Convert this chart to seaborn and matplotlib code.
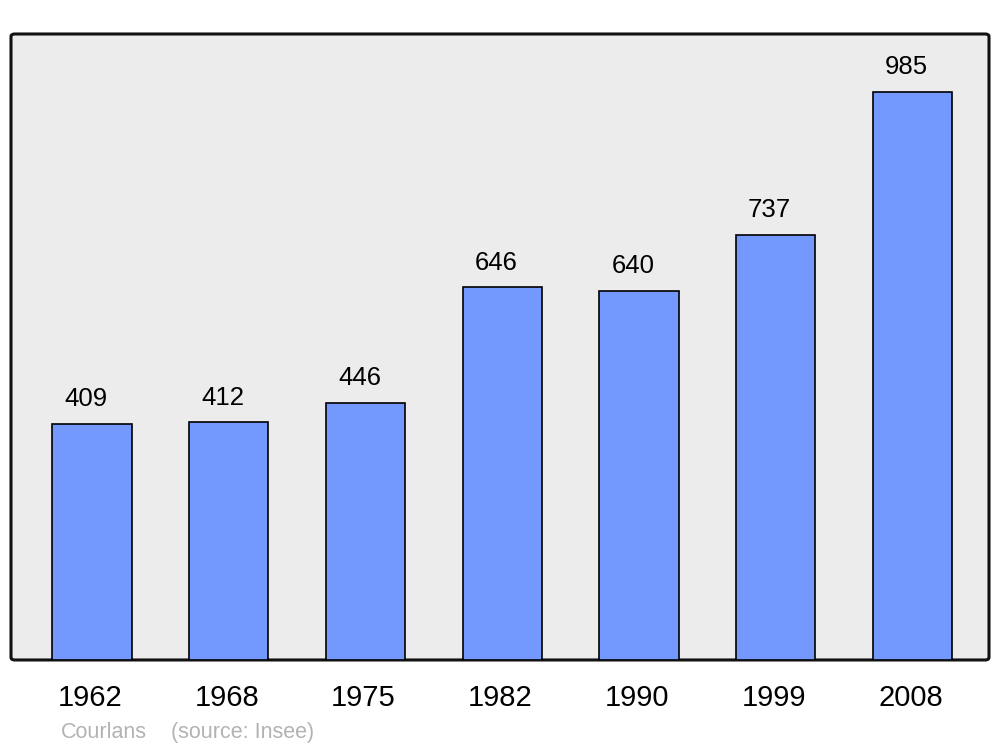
import matplotlib
matplotlib.use("Agg")
import matplotlib.pyplot as plt
import matplotlib.transforms as mtransforms
import seaborn as sns
import pandas as pd
from matplotlib.patches import FancyBboxPatch

# Population data
years = ["1962", "1968", "1975", "1982", "1990", "1999", "2008"]
population = [409, 412, 446, 646, 640, 737, 985]
town = "Courlans"
source = "(source: Insee)"

data = pd.DataFrame({"year": years, "pop": population})

sns.set_theme(style="white")
plt.rcParams["font.family"] = ["Liberation Sans", "DejaVu Sans"]

fig = plt.figure(figsize=(10, 7.47), dpi=100)
ax = fig.add_axes([0.011, 0.1165, 0.978, 0.838])
ax.set_facecolor("none")

# Rounded frame with grey fill
frame = FancyBboxPatch((0, 0), 1, 1, boxstyle="round,pad=0,rounding_size=0.004",
                       transform=ax.transAxes, facecolor="#ececec",
                       edgecolor="#111111", linewidth=2.2, zorder=0, clip_on=False)
ax.add_patch(frame)

sns.barplot(data=data, x="year", y="pop", color="#7399ff", width=0.58,
            edgecolor="black", linewidth=1.2, saturation=1, ax=ax, zorder=2)

for i, v in enumerate(population):
    ax.text(i - 0.045, v + 22, str(v), ha="center", va="bottom", fontsize=18.5, color="black")

ax.set_xlim(-0.593, 6.56)
ax.set_ylim(0, 1085)
ax.set_yticks([])
ax.set_xlabel("")
ax.set_ylabel("")
for s in ax.spines.values():
    s.set_visible(False)
ax.tick_params(axis="x", length=0, pad=17, labelsize=21, colors="black")

# nudge year labels slightly left
shift = mtransforms.ScaledTranslation(-2 / 100, 0, fig.dpi_scale_trans)
for lab in ax.get_xticklabels():
    lab.set_transform(lab.get_transform() + shift)

fig.text(0.061, 0.006, town, fontsize=15.5, color="#b3b3b3", ha="left", va="bottom")
fig.text(0.171, 0.006, source, fontsize=15.5, color="#b3b3b3", ha="left", va="bottom")

fig.savefig("out.png", dpi=100)
